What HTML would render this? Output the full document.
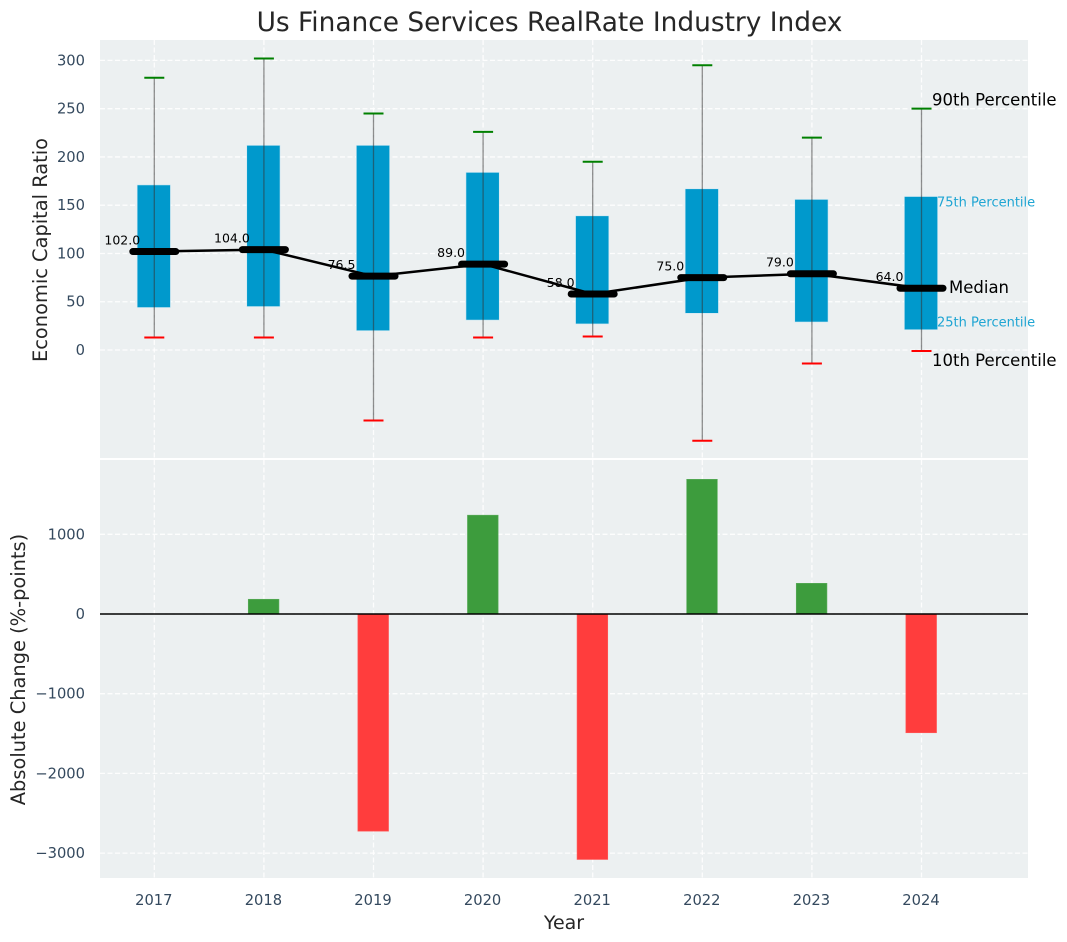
<!DOCTYPE html>
<html lang="en">
<head>
<meta charset="utf-8">
<title>Us Finance Services RealRate Industry Index</title>
<style>
html,body{margin:0;padding:0;background:#fff;}
svg{display:block;font-family:"DejaVu Sans","Liberation Sans",sans-serif;}
</style>
</head>
<body>
<svg id="chart" xmlns="http://www.w3.org/2000/svg" width="1067" height="942" viewBox="0 0 1067 942">
  <rect x="0" y="0" width="1067" height="942" fill="#ffffff"/>
  <rect x="100" y="40" width="928" height="418" fill="#ecf0f1"/>
  <rect x="100" y="460" width="928" height="418" fill="#ecf0f1"/>
  <g id="grid"></g>
  <g id="boxes"></g>
  <g id="bars"></g>
  <g id="axes"></g>
  <text x="549.5" y="31" text-anchor="middle" font-size="26.4" fill="#262626">Us Finance Services RealRate Industry Index</text>
  <text transform="translate(47 250) rotate(-90)" text-anchor="middle" font-size="19.4" fill="#262626">Economic Capital Ratio</text>
  <text transform="translate(25 669.5) rotate(-90)" text-anchor="middle" font-size="19.4" fill="#262626">Absolute Change (%-points)</text>
  <text x="564" y="929" text-anchor="middle" font-size="19" fill="#262626">Year</text>
</svg>
<script>
const years = [2017, 2018, 2019, 2020, 2021, 2022, 2023, 2024];
const p90 = [282, 302, 245, 226, 195, 295, 220, 250];
const p75 = [171, 212, 212, 184, 139, 167, 156, 159];
const median = [102, 104, 76.5, 89, 58, 75, 79, 64];
const p25 = [44, 45, 20, 31, 27, 38, 29, 21];
const p10 = [13, 13, -73, 13, 14, -94, -14, -1];
const changes = [0, 185, -2725, 1240, -3080, 1690, 385, -1490];
const topTicks = [0, 50, 100, 150, 200, 250, 300];
const bottomTicks = [1000, 0, -1000, -2000, -3000];

const NS = 'http://www.w3.org/2000/svg';
const xScale = i => 154.3 + i * 109.6;
const yTop = v => 350 - v * 0.9653;
const yBottom = v => 614 - v * 0.0797;
const xUnit = 109.6;

function mk(parent, tag, attrs, text) {
  const el = document.createElementNS(NS, tag);
  for (const k in attrs) el.setAttribute(k, attrs[k]);
  if (text !== undefined) el.textContent = text;
  parent.appendChild(el);
  return el;
}
const fmtTick = v => (v < 0 ? '\u2212' + Math.abs(v) : String(v));

const grid = document.getElementById('grid');
const boxes = document.getElementById('boxes');
const bars = document.getElementById('bars');
const axes = document.getElementById('axes');
const gridStyle = { stroke: '#ffffff', 'stroke-width': 1.3, 'stroke-dasharray': '5 2.5', opacity: 0.9 };

years.forEach((yr, i) => {
  const x = xScale(i);
  const g1 = mk(grid, 'line', Object.assign({ x1: x, x2: x, y1: 40, y2: 458 }, gridStyle));
  
  
  const g2 = mk(grid, 'line', Object.assign({ x1: x, x2: x, y1: 460, y2: 878 }, gridStyle));
  
  
  const t = mk(axes, 'text', { x: x - 0.5, y: 905, 'text-anchor': 'middle', 'font-size': 14.7, fill: '#34495e' }, yr);
  
  
});

topTicks.forEach(v => {
  const y = yTop(v);
  const g = mk(grid, 'line', Object.assign({ x1: 100, x2: 1028, y1: y, y2: y }, gridStyle));
  
  
  const t = mk(axes, 'text', { x: 85, y: y + 5, 'text-anchor': 'end', 'font-size': 14.7, fill: '#34495e' }, fmtTick(v));
  
  
});

bottomTicks.forEach(v => {
  const y = yBottom(v);
  const g = mk(grid, 'line', Object.assign({ x1: 100, x2: 1028, y1: y, y2: y }, gridStyle));
  
  
  const t = mk(axes, 'text', { x: 85, y: y + 5, 'text-anchor': 'end', 'font-size': 14.7, fill: '#34495e' }, fmtTick(v));
  
  
});

years.forEach((yr, i) => {
  const x = xScale(i);
  const box = mk(boxes, 'rect', {
    x: x - 0.15 * xUnit - 0.7, width: 0.3 * xUnit + 0.4,
    y: yTop(p75[i]), height: yTop(p25[i]) - yTop(p75[i]),
    fill: '#0099cc', stroke: '#cfe9f3', 'stroke-width': 0.6
  });
  
  
  const w = mk(boxes, 'line', { x1: x, x2: x, y1: yTop(p90[i]), y2: yTop(p10[i]), stroke: '#333333', 'stroke-opacity': 0.55, 'stroke-width': 1.3 });
  
  
  const c1 = mk(boxes, 'line', { x1: x - 10, x2: x + 10, y1: yTop(p90[i]), y2: yTop(p90[i]), stroke: '#008000', 'stroke-width': 2 });
  
  
  const c2 = mk(boxes, 'line', { x1: x - 10, x2: x + 10, y1: yTop(p10[i]), y2: yTop(p10[i]), stroke: '#ff0000', 'stroke-width': 2 });
  
  
});

const medianLine = mk(boxes, 'polyline', {
  points: median.map((v, i) => xScale(i) + ',' + yTop(v)).join(' '),
  fill: 'none', stroke: '#000000', 'stroke-width': 2.5, 'stroke-linejoin': 'round'
});



median.forEach((v, i) => {
  const x = xScale(i);
  const y = yTop(v);
  const m = mk(boxes, 'line', { x1: x - 21.5, x2: x + 21.5, y1: y, y2: y, stroke: '#000000', 'stroke-width': 7, 'stroke-linecap': 'round' });
  
  
  const t = mk(boxes, 'text', { x: x - 32, y: y - 7, 'text-anchor': 'middle', 'font-size': 12.5, fill: '#000000' }, v.toFixed(1));
  
  
});

const last = years.length - 1;
const lastX = xScale(last);
const a1 = mk(boxes, 'text', { x: lastX + 10.5, y: yTop(p90[last]) - 3, 'font-size': 16.5, fill: '#000000' }, '90th Percentile');


const a2 = mk(boxes, 'text', { x: lastX + 10.5, y: yTop(p10[last]) + 15, 'font-size': 16.5, fill: '#000000' }, '10th Percentile');


const a3 = mk(boxes, 'text', { x: lastX + 27.5, y: yTop(median[last]) + 5, 'font-size': 16.5, fill: '#000000' }, 'Median');


const a4 = mk(boxes, 'text', { x: lastX + 15.5, y: yTop(p75[last]) + 10, 'font-size': 13, fill: '#1fa5d3' }, '75th Percentile');


const a5 = mk(boxes, 'text', { x: lastX + 15.5, y: yTop(p25[last]) - 3, 'font-size': 13, fill: '#1fa5d3' }, '25th Percentile');



changes.forEach((v, i) => {
  if (v === 0) return;
  const x = xScale(i);
  const y0 = yBottom(0);
  const y1 = yBottom(v);
  const r = mk(bars, 'rect', {
    x: x - 0.14 * xUnit - 0.3, width: 0.28 * xUnit,
    y: Math.min(y0, y1), height: Math.abs(y1 - y0),
    fill: v > 0 ? '#3d9c3d' : '#ff3d3d',
    stroke: v > 0 ? '#5cad5c' : '#ff5c5c', 'stroke-width': 0.6
  });
  
  
});
const zero = mk(bars, 'line', { x1: 100, x2: 1028, y1: yBottom(0), y2: yBottom(0), stroke: '#000000', 'stroke-width': 1.4 });


</script>
</body>
</html>
